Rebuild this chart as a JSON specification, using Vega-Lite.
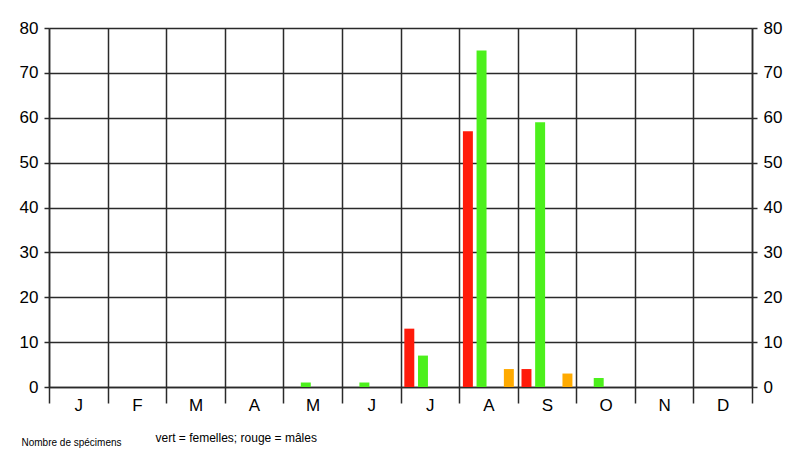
{
  "$schema": "https://vega.github.io/schema/vega-lite/v6.json",
  "autosize": {"type": "none"},
  "width": 703,
  "height": 359,
  "padding": {"left": 49, "top": 28, "right": 48, "bottom": 83},
  "background": "white",
  "config": {
    "view": {"stroke": null},
    "font": "Liberation Sans",
    "axis": {"labelFont": "Liberation Sans", "titleFont": "Liberation Sans", "labelColor": "#000", "titleColor": "#000", "titleFontWeight": "normal"}
  },
  "data": {
    "values": [
      {"mois": 5, "sexe": "femelles", "n": 1},
      {"mois": 6, "sexe": "femelles", "n": 1},
      {"mois": 7, "sexe": "mâles", "n": 13},
      {"mois": 7, "sexe": "femelles", "n": 7},
      {"mois": 8, "sexe": "mâles", "n": 57},
      {"mois": 8, "sexe": "femelles", "n": 75},
      {"mois": 8, "sexe": "autres", "n": 4},
      {"mois": 9, "sexe": "mâles", "n": 4},
      {"mois": 9, "sexe": "femelles", "n": 59},
      {"mois": 9, "sexe": "autres", "n": 3},
      {"mois": 10, "sexe": "femelles", "n": 2}
    ]
  },
  "layer": [
    {
      "mark": {"type": "bar"},
      "encoding": {
        "x": {
          "field": "mois", "type": "ordinal",
          "scale": {"domain": [1,2,3,4,5,6,7,8,9,10,11,12], "paddingInner": 0, "paddingOuter": 0},
          "axis": {
            "title": "vert = femelles; rouge = mâles",
            "titleFontSize": 12,
            "titleAnchor": "start",
            "titleAlign": "left",
            "titleBaseline": "alphabetic",
            "titleX": 106,
            "titleY": 54,
            "labelExpr": "['J','F','M','A','M','J','J','A','S','O','N','D'][datum.value-1]",
            "labelAngle": 0,
            "labelFontSize": 17,
            "labelPadding": -6,
            "tickBand": "extent",
            "tickSize": 16,
            "tickColor": "#2a2a2a",
            "tickWidth": 1.5,
            "grid": true,
            "gridColor": "#2a2a2a",
            "gridWidth": 1.5,
            "gridOpacity": 1,
            "domainColor": "#2a2a2a",
            "domainWidth": 1.5
          }
        },
        "xOffset": {
          "field": "sexe", "type": "nominal",
          "scale": {"domain": ["mâles", "femelles", "vide", "autres"], "paddingInner": 0.27, "paddingOuter": 0.28}
        },
        "y": {
          "field": "n", "type": "quantitative",
          "scale": {"domain": [0, 80], "nice": false},
          "axis": {
            "values": [0,10,20,30,40,50,60,70,80],
            "title": "Nombre de spécimens",
            "titleAngle": 0,
            "titleFontSize": 10,
            "titleAlign": "left",
            "titleBaseline": "alphabetic",
            "titleX": -28,
            "titleY": 417,
            "labelFontSize": 17,
            "labelPadding": 6,
            "tickSize": 5,
            "tickColor": "#2a2a2a",
            "tickWidth": 1.5,
            "grid": true,
            "gridColor": "#2a2a2a",
            "gridWidth": 1.5,
            "gridOpacity": 1,
            "domainColor": "#2a2a2a",
            "domainWidth": 1.5
          }
        },
        "color": {
          "field": "sexe", "type": "nominal",
          "scale": {"domain": ["mâles", "femelles", "vide", "autres"], "range": ["#ff1a0a", "#4cf01c", "#ffffff", "#ffaa00"]},
          "legend": null
        }
      }
    },
    {
      "mark": {"type": "rule", "opacity": 0},
      "encoding": {
        "y": {
          "field": "n", "type": "quantitative",
          "axis": {
            "orient": "right",
            "values": [0,10,20,30,40,50,60,70,80],
            "title": null,
            "labelFontSize": 17,
            "labelPadding": 6,
            "tickSize": 5,
            "tickColor": "#2a2a2a",
            "tickWidth": 1.5,
            "grid": false,
            "domainColor": "#2a2a2a",
            "domainWidth": 1.5
          }
        }
      }
    }
  ],
  "resolve": {"axis": {"y": "independent"}}
}
